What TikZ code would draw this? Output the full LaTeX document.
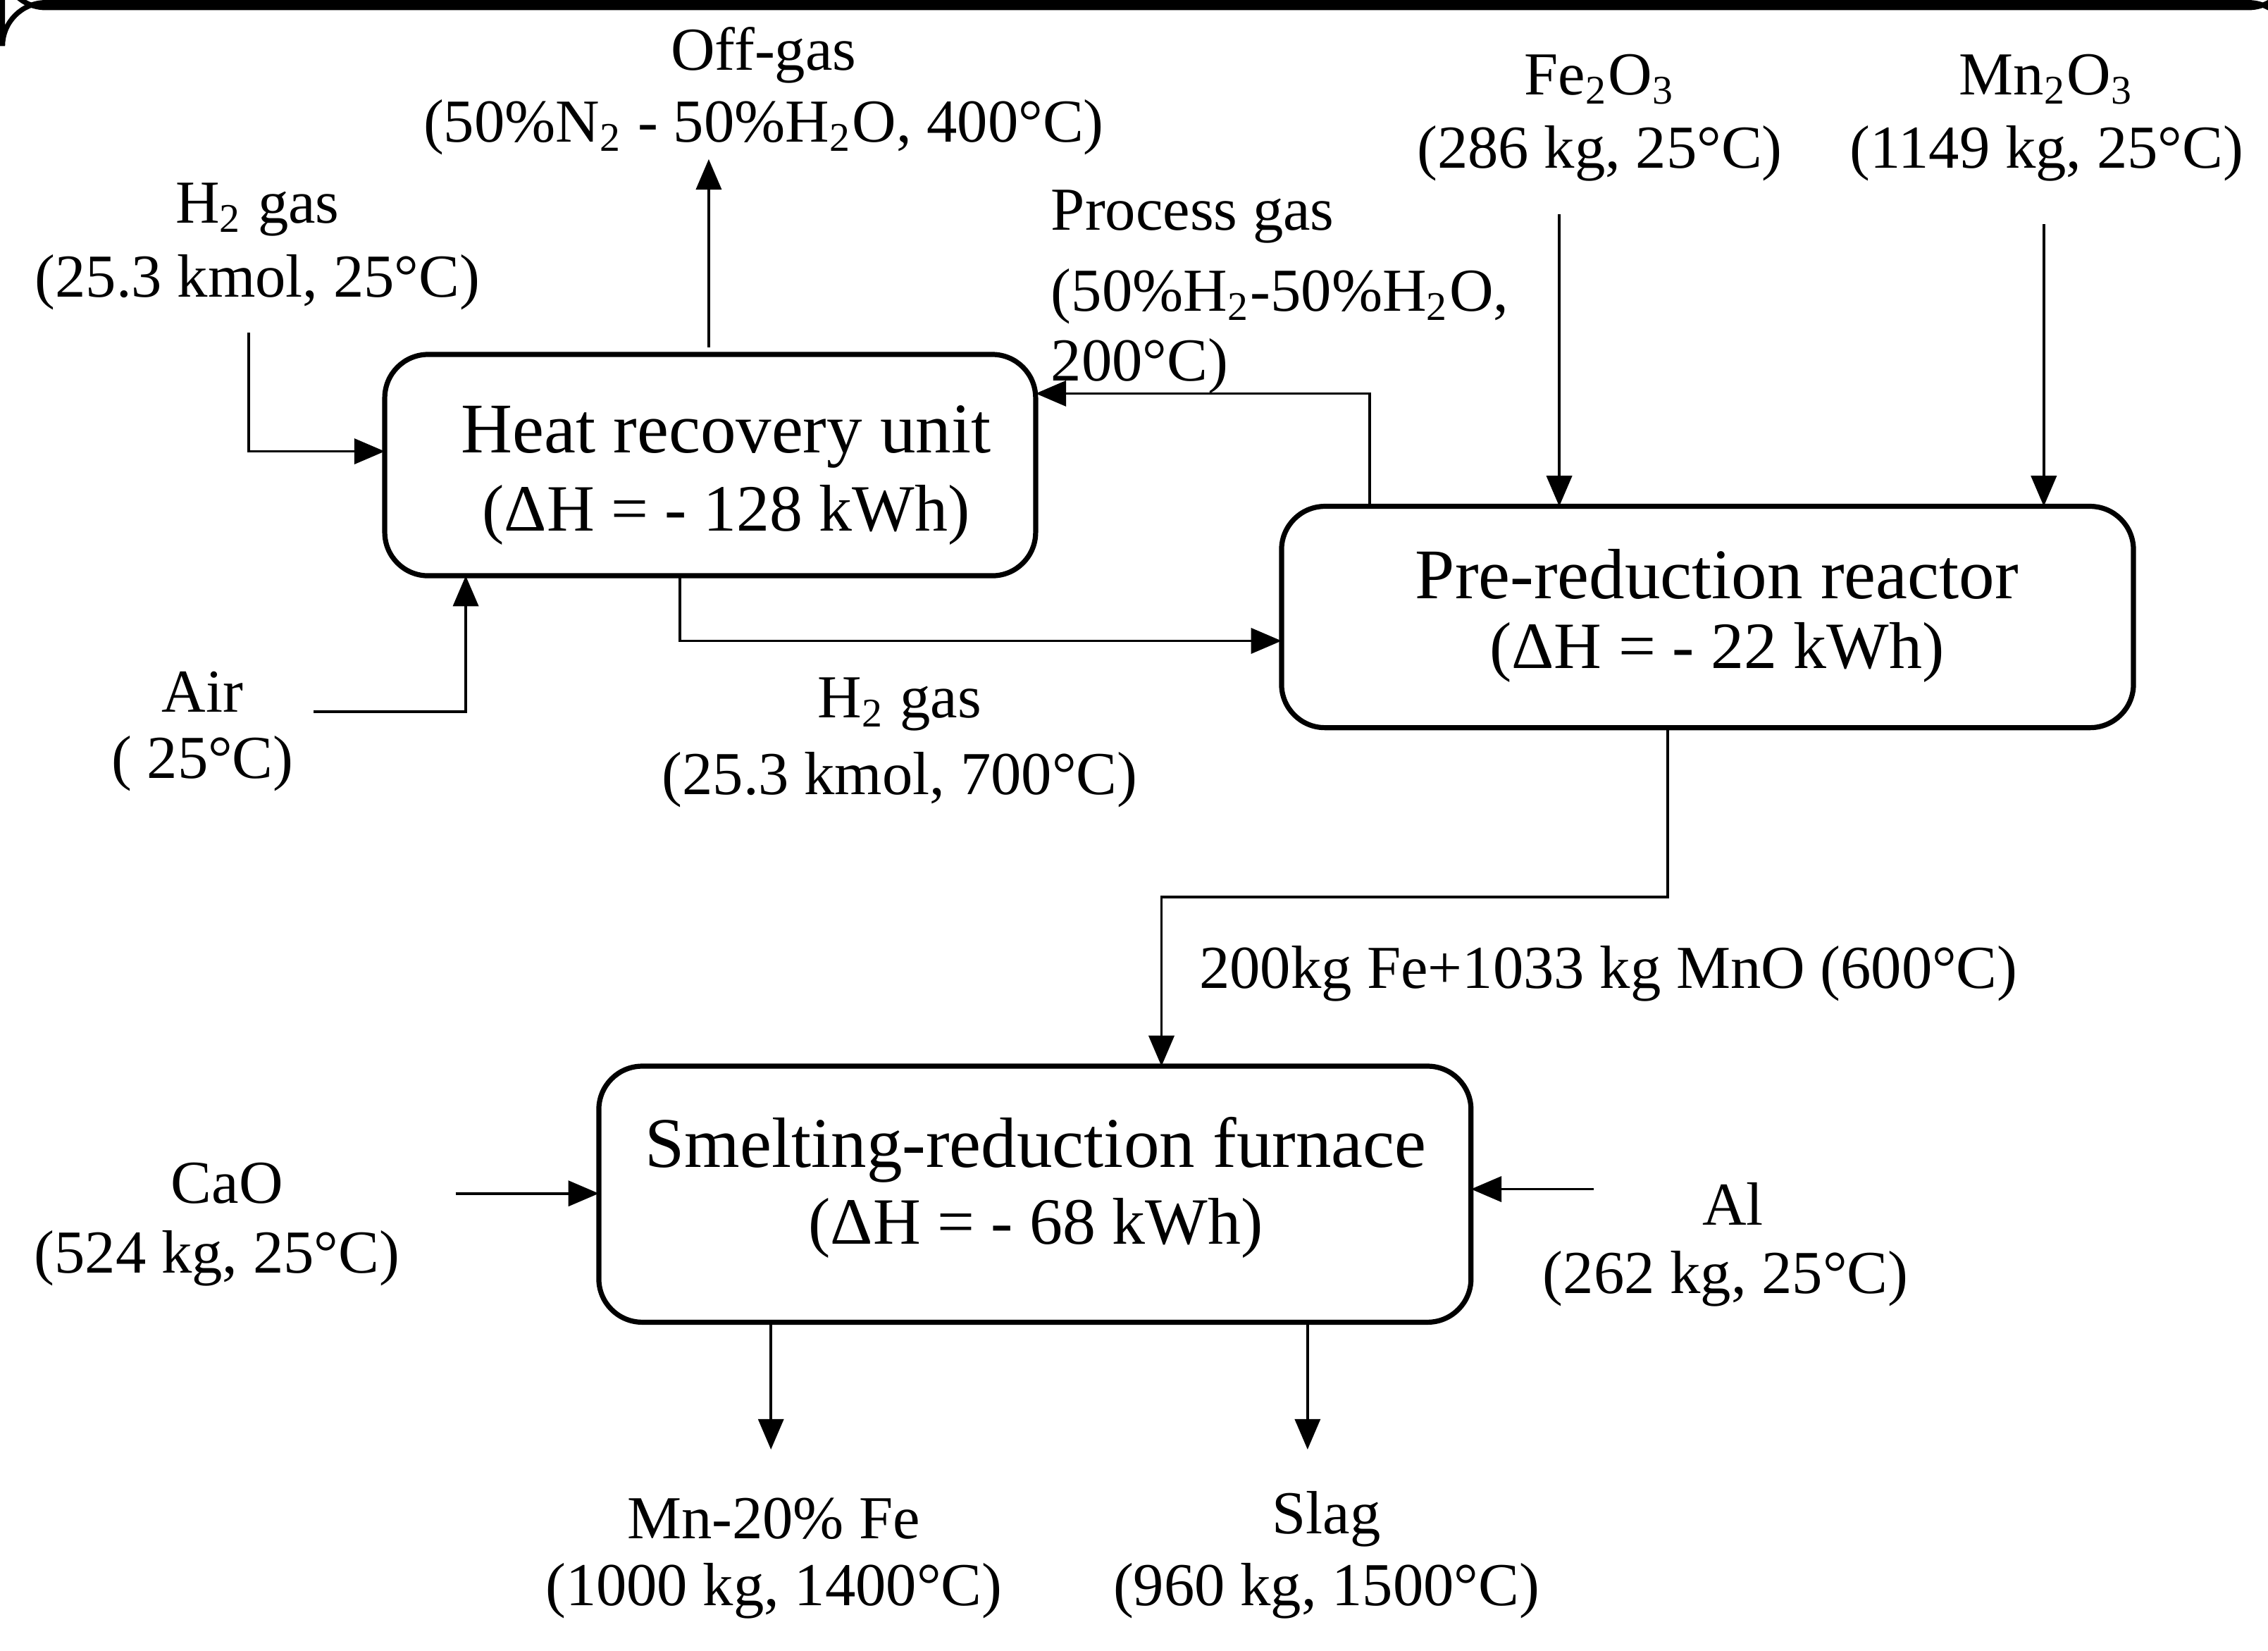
\documentclass[tikz,border=0pt]{standalone}
\usepackage{fontspec}
\setmainfont{Liberation Serif}
\usetikzlibrary{arrows.meta}
\begin{document}
\begin{tikzpicture}[x=0.01cm,y=-0.01cm,
 box/.style={draw,line width=1pt,rounded corners=0.3cm,inner sep=0pt},
 lbl/.style={font=\fontsize{12}{14}\selectfont,inner sep=0pt},
 ttl/.style={font=\fontsize{14}{16}\selectfont,inner sep=0pt},
 flow/.style={line width=0.5pt,-{Triangle[length=6pt,width=5pt]}}]
\useasboundingbox (0,0) rectangle (1568,1141);
% boxes
\node[box,minimum width=450\pgflinewidth,anchor=north west] at (0,0) {};
\draw[line width=1pt,rounded corners=0.3cm] (266,245) rectangle (716,398);
\draw[line width=1pt,rounded corners=0.3cm] (886,350) rectangle (1475,503);
\draw[line width=1pt,rounded corners=0.3cm] (414,737) rectangle (1017,914);
\node[ttl] (hru) at (502,302) {Heat recovery unit};
\node[lbl,font=\fontsize{13}{15}\selectfont] (hrud) at (502,356) {(ΔH = - 128 kWh)};
\node[ttl] (prr) at (1187,397) {Pre-reduction reactor};
\node[lbl,font=\fontsize{13}{15}\selectfont] (prrd) at (1187,451) {(ΔH = - 22 kWh)};
\node[ttl] (srf) at (716,795) {Smelting-reduction furnace};
\node[lbl,font=\fontsize{13}{15}\selectfont] (srfd) at (716,849) {(ΔH = - 68 kWh)};
% labels
\node[lbl] (og1) at (528,38) {Off-gas};
\node[lbl] (og2) at (528,88) {(50\%N\textsubscript{2} - 50\%H\textsubscript{2}O, 400°C)};
\node[lbl] (h1) at (178,145) {H\textsubscript{2} gas};
\node[lbl] (h2) at (178,195) {(25.3 kmol, 25°C)};
\node[lbl] (air1) at (140,478) {Air};
\node[lbl] (air2) at (140,528) {( 25°C)};
\node[lbl] (ho1) at (622,487) {H\textsubscript{2} gas};
\node[lbl] (ho2) at (622,539) {(25.3 kmol, 700°C)};
\node[lbl,anchor=west] (pg1) at (726,150) {Process gas};
\node[lbl,anchor=west] (pg2) at (726,205) {(50\%H\textsubscript{2}-50\%H\textsubscript{2}O,};
\node[lbl,anchor=west] (pg3) at (726,253) {200°C)};
\node[lbl] (fe1) at (1106,55) {Fe\textsubscript{2}O\textsubscript{3}};
\node[lbl] (fe2) at (1106,106) {(286 kg, 25°C)};
\node[lbl] (mn1) at (1415,55) {Mn\textsubscript{2}O\textsubscript{3}};
\node[lbl] (mn2) at (1415,106) {(1149 kg, 25°C)};
\node[lbl] (mid) at (1112,673) {200kg Fe+1033 kg MnO (600°C)};
\node[lbl] (cao1) at (157,818) {CaO};
\node[lbl] (cao2) at (150,870) {(524 kg, 25°C)};
\node[lbl] (al1) at (1198,832) {Al};
\node[lbl] (al2) at (1193,884) {(262 kg, 25°C)};
\node[lbl] (p1) at (535,1050) {Mn-20\% Fe};
\node[lbl] (p2) at (535,1100) {(1000 kg, 1400°C)};
\node[lbl] (s1) at (917,1050) {Slag};
\node[lbl] (s2) at (917,1100) {(960 kg, 1500°C)};
% coordinates
\coordinate (a1) at (490,240); \coordinate (a2) at (490,110);
\coordinate (b1) at (172,230); \coordinate (b2) at (266,312);
\coordinate (c1) at (217,492); \coordinate (c2) at (322,398);
\coordinate (d1) at (470,398); \coordinate (d2) at (886,443);
\coordinate (e1) at (947,350); \coordinate (e2) at (716,272);
\coordinate (f1) at (1078,148); \coordinate (f2) at (1078,350);
\coordinate (g1) at (1413,155); \coordinate (g2) at (1413,350);
\coordinate (k1) at (1153,503); \coordinate (k2) at (803,737);
\coordinate (m1) at (315,825); \coordinate (m2) at (414,825);
\coordinate (n1) at (1102,822); \coordinate (n2) at (1017,822);
\coordinate (q1) at (533,914); \coordinate (q2) at (533,1002);
\coordinate (r1) at (904,914); \coordinate (r2) at (904,1002);
% flows
\draw[flow] (a1) -- (a2);
\draw[flow] (b1) |- (b2);
\draw[flow] (c1) -| (c2);
\draw[flow] (d1) |- (d2);
\draw[flow] (e1) |- (e2);
\draw[flow] (f1) -- (f2);
\draw[flow] (g1) -- (g2);
\draw[flow] (k1) -- (k1|-0,620) -- (k2|-0,620) -- (k2);
\draw[flow] (m1) -- (m2);
\draw[flow] (n1) -- (n2);
\draw[flow] (q1) -- (q2);
\draw[flow] (r1) -- (r2);
\end{tikzpicture}
\end{document}
